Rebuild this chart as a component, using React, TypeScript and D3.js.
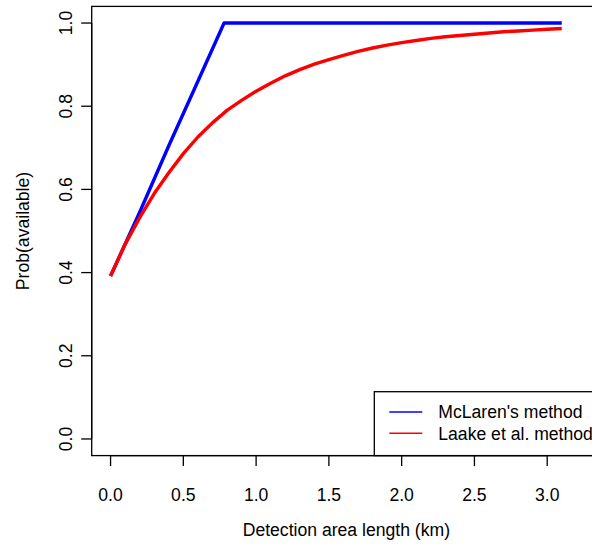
import React from "react";
import * as d3 from "d3";

// distances (km) and availability
const laakeX = [0.0, 0.1, 0.2, 0.3, 0.4, 0.5, 0.6, 0.7, 0.8, 0.9, 1.0, 1.1, 1.2, 1.3, 1.4, 1.5,
  1.6, 1.7, 1.8, 1.9, 2.0, 2.1, 2.2, 2.3, 2.4, 2.5, 2.6, 2.7, 2.8, 2.9, 3.0, 3.1];
const laakeY = [0.392, 0.468, 0.532, 0.590, 0.640, 0.686, 0.726, 0.760, 0.790, 0.814, 0.836,
  0.855, 0.873, 0.888, 0.901, 0.912, 0.922, 0.932, 0.940, 0.947, 0.953, 0.958, 0.963, 0.967,
  0.970, 0.973, 0.976, 0.979, 0.981, 0.983, 0.985, 0.987];

const mclarenX = [0.0, 0.2, 0.4, 0.6, 0.78, 1.5, 2.5, 3.1];
const mclarenY = [0.392, 0.545, 0.705, 0.860, 1.0, 1.0, 1.0, 1.0];

const xTicks = [0, 0.5, 1, 1.5, 2, 2.5, 3];
const yTicks = [0, 0.2, 0.4, 0.6, 0.8, 1.0];

const legendLabels = ["McLaren's method", "Laake et al. method"];
const legendColors = ["#0000ff", "#ff0000"];

const W = 592;
const H = 546;
const FONT = "'Liberation Sans', Arial, sans-serif";
const FS = 17.6;

export default function App() {
  // R style: 4% padding around xlim / ylim
  const xlim = [0, 3.24];
  const ylim = [0, 1];
  const px = (xlim[1] - xlim[0]) * 0.04;
  const py = (ylim[1] - ylim[0]) * 0.04;

  const left = 91.7;
  const right = 601;
  const top = 6.4;
  const bottom = 455.6;

  const x = d3.scaleLinear().domain([xlim[0] - px, xlim[1] + px]).range([left, right]);
  const y = d3.scaleLinear().domain([ylim[0] - py, ylim[1] + py]).range([bottom, top]);

  const line = d3.line<[number, number]>()
    .x(d => x(d[0]))
    .y(d => y(d[1]));

  const laake = laakeX.map((v, i) => [v, laakeY[i]] as [number, number]);
  const mclaren = mclarenX.map((v, i) => [v, mclarenY[i]] as [number, number]);

  const tick = 10.5;
  const legLeft = 374.3;
  const legTop = 391.7;
  const rowY = [412, 433.3];

  return (
    <svg width={W} height={H} style={{ position: "absolute", left: 0, top: 0, background: "#fff" }}
      fontFamily={FONT} fontSize={FS}>
      <rect x={0} y={0} width={W} height={H} fill="#fff" />

      {/* data lines */}
      <path d={line(mclaren) ?? ""} fill="none" stroke="#0000ff" strokeWidth={3.4} strokeLinejoin="round" />
      <path d={line(laake) ?? ""} fill="none" stroke="#ff0000" strokeWidth={3.4} strokeLinejoin="round" />

      {/* plot box */}
      <rect x={left} y={top} width={right - left} height={bottom - top} fill="none" stroke="#000" strokeWidth={1.3} />

      {/* x axis */}
      <line x1={x(xTicks[0])} x2={x(xTicks[xTicks.length - 1])} y1={bottom} y2={bottom} stroke="#000" strokeWidth={1.3} />
      {xTicks.map(t => (
        <g key={"xt" + t}>
          <line x1={x(t)} x2={x(t)} y1={bottom} y2={bottom + tick} stroke="#000" strokeWidth={1.3} />
          <text x={x(t)} y={500.6} textAnchor="middle">{t.toFixed(1)}</text>
        </g>
      ))}
      <text x={(left + right) / 2} y={536} textAnchor="middle">Detection area length (km)</text>

      {/* y axis */}
      <line x1={left} x2={left} y1={y(yTicks[0])} y2={y(yTicks[yTicks.length - 1])} stroke="#000" strokeWidth={1.3} />
      {yTicks.map(t => (
        <g key={"yt" + t}>
          <line x1={left - tick} x2={left} y1={y(t)} y2={y(t)} stroke="#000" strokeWidth={1.3} />
          <text transform={`translate(72,${y(t)}) rotate(-90)`} textAnchor="middle">{t.toFixed(1)}</text>
        </g>
      ))}
      <text transform={`translate(28.5,${(top + bottom) / 2}) rotate(-90)`} textAnchor="middle">Prob(available)</text>

      {/* legend */}
      <rect x={legLeft} y={legTop} width={right - legLeft} height={bottom - legTop} fill="#fff" stroke="#000" strokeWidth={1.3} />
      {legendLabels.map((lab, i) => (
        <g key={lab}>
          <line x1={389.3} x2={422.3} y1={rowY[i]} y2={rowY[i]} stroke={legendColors[i]} strokeWidth={1.5} />
          <text x={438.3} y={rowY[i] + 6.4}>{lab}</text>
        </g>
      ))}
    </svg>
  );
}
